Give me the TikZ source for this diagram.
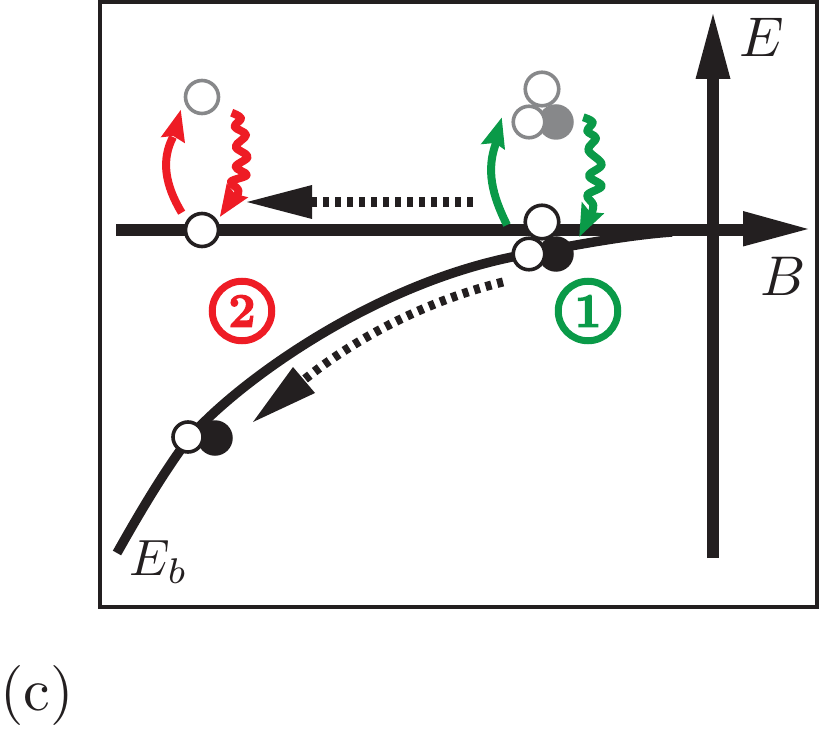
\documentclass[tikz,border=0pt]{standalone}
\usepackage{graphicx}
\usepackage{fontspec}
\newfontfamily\numfont[FakeBold=3]{Latin Modern Roman}
\usetikzlibrary{arrows.meta}
\definecolor{ink}{HTML}{231F20}
\definecolor{grn}{HTML}{0A9A48}
\definecolor{rd}{HTML}{EE1C25}
\definecolor{gry}{HTML}{87888A}
\tikzset{
  x=1pt,y=-1pt,
  ball/.style={circle,inner sep=0pt,outer sep=0pt,minimum size=33pt,line width=3.6pt,draw=#1,fill=white},
  solid ball/.style={circle,inner sep=0pt,outer sep=0pt,minimum size=35.5pt,fill=#1},
  axisline/.style={ink,line width=12pt},
  exc/.style={line width=8pt,draw=#1},
  wig/.style={draw=#1,line width=8pt,line join=round},
  bigdash/.style={ink,line width=#1,dash pattern=on 6pt off 6pt},
  circnum/.style={circle,draw=#1,text=#1,line width=7pt,minimum size=59.5pt,inner sep=0pt,font=\numfont\bfseries\fontsize{48}{48}\selectfont},
  lab/.style={ink,inner sep=0pt,scale=#1}
}
\begin{document}
\begin{tikzpicture}
\useasboundingbox (0,0) rectangle (830,730);
\coordinate (frameA) at (100,2);
\coordinate (frameB) at (817,607);
\draw[ink,line width=3.4pt] (frameA) rectangle (frameB);
% axes
\coordinate (hs) at (116,230);
\coordinate (hb) at (750,230);
\coordinate (ht) at (808,229);
\coordinate (vs) at (712.5,558);
\coordinate (vb) at (712.5,75);
\coordinate (vt) at (713,14);
\draw[axisline] (hs) -- (hb);
\draw[axisline] (vs) -- (vb);
\fill[ink] (ht) -- (743,211) -- (743,246.5) -- cycle;
\fill[ink] (vt) -- (695.5,79) -- (730.5,79) -- cycle;
% binding curve
\coordinate (cs) at (117,553);
\coordinate (ce) at (672,232);
\draw[ink,line width=9.5pt] (cs) .. controls (140,512) and (165,470) .. (190,437) .. controls (235,385) and (375,280) .. (528,254) .. controls (580,244) and (630,235) .. (ce);
% dashed transfer arrows
\coordinate (da) at (473,202);
\coordinate (db) at (312,202);
\coordinate (dt) at (247,202);
\draw[bigdash=10pt] (da) -- (db);
\fill[ink] (dt) -- (312,185) -- (312,219) -- cycle;
\coordinate (ea) at (503,282);
\coordinate (eb) at (305,379);
\draw[bigdash=9pt] (ea) .. controls (430,300) and (360,335) .. (eb);
\fill[ink] (253,422) -- (293,367) -- (315,393) -- cycle;
% particles
\node[solid ball=ink] (b1) at (556,254) {};
\node[ball=ink,minimum size=31.5pt] (w1) at (529,254) {};
\node[ball=ink,minimum size=33.5pt] (w2) at (542,222) {};
\node[solid ball=ink] (b3) at (215,438) {};
\node[ball=ink,minimum size=30pt] (w3) at (188,437) {};
\node[ball=ink] (w4) at (202,230) {};
\node[ball=gry] (g1) at (202,97) {};
\node[ball=gry,minimum size=33.5pt] (g2) at (542,89) {};
\node[solid ball=gry] (g3) at (556,122) {};
\node[ball=gry,minimum size=31.5pt] (g4) at (529,122) {};
% green arrows
\coordinate (ga) at (507,225);
\coordinate (gb) at (496,143);
\draw[exc=grn] (ga) .. controls (492,195) and (486,170) .. (gb);
\fill[grn] (501.7,117.7) -- (480.7,144.3) -- (495,143) -- (505,150) -- cycle;
\draw[wig=grn] plot[smooth,tension=0.6] coordinates {(583.3,117.3) (592.7,122.3) (587.3,131) (596,138.3) (588.3,150) (601.7,164.3) (589,175.7) (601.7,186) (587.3,195) (593.3,205) (590.7,216)};
\fill[grn] (579.3,236.7) -- (581.7,201.7) -- (590,212) -- (604.3,213.3) -- cycle;
% red arrows
\coordinate (ra) at (181.7,212.7);
\coordinate (rb) at (173,137);
\draw[exc=rd] (ra) .. controls (165,185) and (161,160) .. (rb);
\fill[rd] (180.7,110) -- (160.7,137.3) -- (173.3,136) -- (185,143.3) -- cycle;
\draw[wig=rd] plot[smooth,tension=0.6] coordinates {(231.7,112.7) (241,118.3) (234.7,126.7) (246,135) (235.7,146.7) (247.7,156.7) (235.7,166.7) (246.7,175) (231,181.7) (238.3,190) (235.7,200)};
\fill[rd] (220,216.7) -- (226.7,183.3) -- (235,194) -- (248.3,197.3) -- cycle;
% labels
\node[circnum=grn] (n1) at (588,311) {1};
\node[circnum=rd] (n2) at (242,311) {2};
\node[lab=5.6] (lE) at (762,37) {$E$};
\node[lab=5.6] (lB) at (783,276) {$B$};
\node[lab=5.1] (lEb) at (159,562) {$E_b$};
\node[lab=6] (lc) at (37,695) {(c)};
\end{tikzpicture}
\end{document}
